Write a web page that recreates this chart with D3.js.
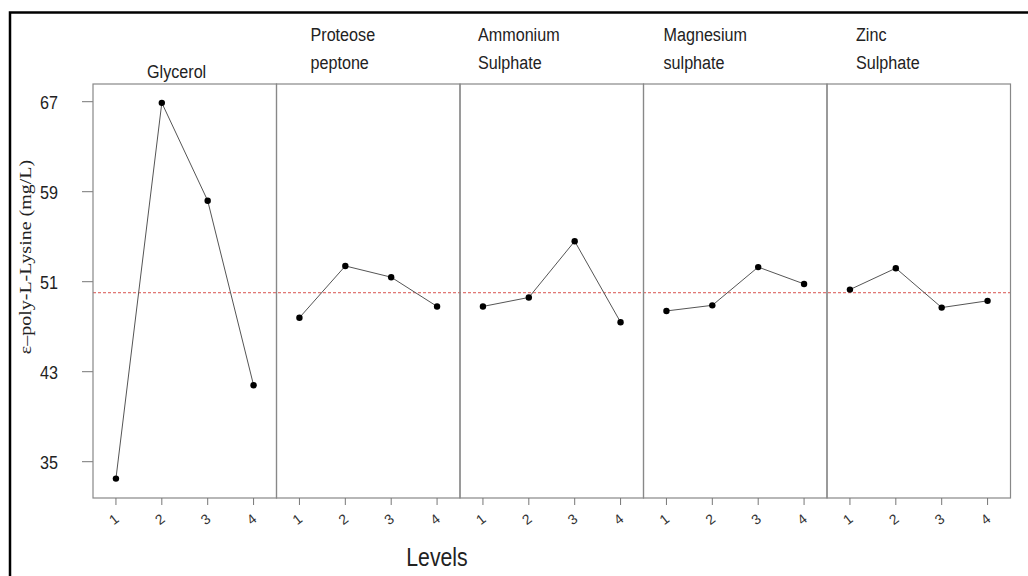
<!DOCTYPE html>
<html>
<head>
<meta charset="utf-8">
<script src="https://cdn.jsdelivr.net/npm/d3@7"></script>
<style>
  body { margin: 0; background: #fff; }
  svg { display: block; }
</style>
</head>
<body>
<div id="chart"></div>
<script>
// factor names, one array of lines per panel title
const factors = [["Glycerol"], ["Proteose", "peptone"], ["Ammonium", "Sulphate"], ["Magnesium", "sulphate"], ["Zinc", "Sulphate"]];
const levels = [1, 2, 3, 4];
const glycerol = [33.5, 66.9, 58.2, 41.8];
const proteose = [47.8, 52.4, 51.4, 48.8];
const ammonium = [48.8, 49.6, 54.6, 47.4];
const magnesium = [48.4, 48.9, 52.3, 50.8];
const zinc = [50.3, 52.2, 48.7, 49.3];
const series = [glycerol, proteose, ammonium, magnesium, zinc];
const grandMean = 50.02;
const yTicks = [35, 43, 51, 59, 67];

// layout
const W = 1028, H = 576;
const plotLeft = 93, plotRight = 1010.5, plotTop = 84, plotBottom = 498;
const pw = (plotRight - plotLeft) / factors.length;
const sx = 0.85; // picture is a bit narrow horizontally
const titleOffset = [54, 34, 18, 20, 29];

const svg = d3.select("#chart").append("svg")
    .attr("width", W)
    .attr("height", H);

// outer frame
svg.append("rect")
    .attr("x", 10).attr("y", 12.5)
    .attr("width", 1040).attr("height", 600)
    .style("fill", "none")
    .style("stroke", "#000")
    .style("stroke-width", 2.5);

let y = d3.scaleLinear().domain([35, 67]).range([461.7, 101.7]);
let x = d3.scaleLinear().domain([0.5, 4.5]).range([0, pw]);

let txt = function(g, tx, ty, s, size, anchor, family) {
    return g.append("text")
        .attr("transform", "translate(" + tx + "," + ty + ") scale(" + sx + ",1)")
        .attr("text-anchor", anchor || "start")
        .style("font-family", family || "'Liberation Sans', Arial, sans-serif")
        .style("font-size", size + "px")
        .style("fill", "#222")
        .text(s);
};

// y axis
let yAxis = svg.append("g");
yTicks.forEach(function(t) {
    yAxis.append("line")
        .attr("x1", plotLeft - 11).attr("x2", plotLeft)
        .attr("y1", y(t)).attr("y2", y(t))
        .style("stroke", "#777");
    txt(yAxis, 49, y(t) + 7, t, 19, "middle");
});

svg.append("text")
    .attr("transform", "translate(31,257) scale(" + sx + ",1) rotate(-90)")
    .attr("text-anchor", "middle")
    .style("font-family", "'Liberation Serif', 'Times New Roman', serif")
    .style("font-size", "20px")
    .style("fill", "#222")
    .text("\u03b5\u2013poly-L-Lysine (mg/L)");

// mean line across all panels
svg.append("line")
    .attr("x1", plotLeft).attr("x2", plotRight)
    .attr("y1", y(grandMean)).attr("y2", y(grandMean))
    .style("stroke", "#d9534f")
    .style("stroke-width", 1)
    .style("stroke-dasharray", "3,2");

let line = d3.line()
    .x(function(d, i) { return x(levels[i]); })
    .y(function(d) { return y(d); });

series.forEach(function(vals, p) {
    let g = svg.append("g")
        .attr("transform", "translate(" + (plotLeft + p * pw) + ",0)");

    g.append("rect")
        .attr("x", 0).attr("y", plotTop)
        .attr("width", pw).attr("height", plotBottom - plotTop)
        .style("fill", "none")
        .style("stroke", "#888")
        .style("stroke-width", 1.2);

    g.append("path")
        .datum(vals)
        .attr("d", line)
        .style("fill", "none")
        .style("stroke", "#555")
        .style("stroke-width", 1);

    g.selectAll(".pt")
        .data(vals)
      .enter().append("circle")
        .attr("class", "pt")
        .attr("cx", function(d, i) { return x(levels[i]); })
        .attr("cy", function(d) { return y(d); })
        .attr("r", 3.2)
        .style("fill", "#000");

    levels.forEach(function(l) {
        g.append("line")
            .attr("x1", x(l)).attr("x2", x(l))
            .attr("y1", plotBottom).attr("y2", plotBottom + 7)
            .style("stroke", "#777");
        g.append("text")
            .attr("transform", "translate(" + (x(l) + 1) + ",523) rotate(-38)")
            .attr("text-anchor", "middle")
            .style("font-family", "'Liberation Sans', Arial, sans-serif")
            .style("font-size", "14px")
            .style("fill", "#333")
            .text(l);
    });

    // panel title
    let lines = factors[p];
    if (lines.length === 1) {
        txt(g, titleOffset[p], 78, lines[0], 19);
    } else {
        txt(g, titleOffset[p], 41, lines[0], 19);
        txt(g, titleOffset[p], 69, lines[1], 19);
    }
});

txt(svg, 437, 566, "Levels", 25, "middle");
</script>
</body>
</html>
